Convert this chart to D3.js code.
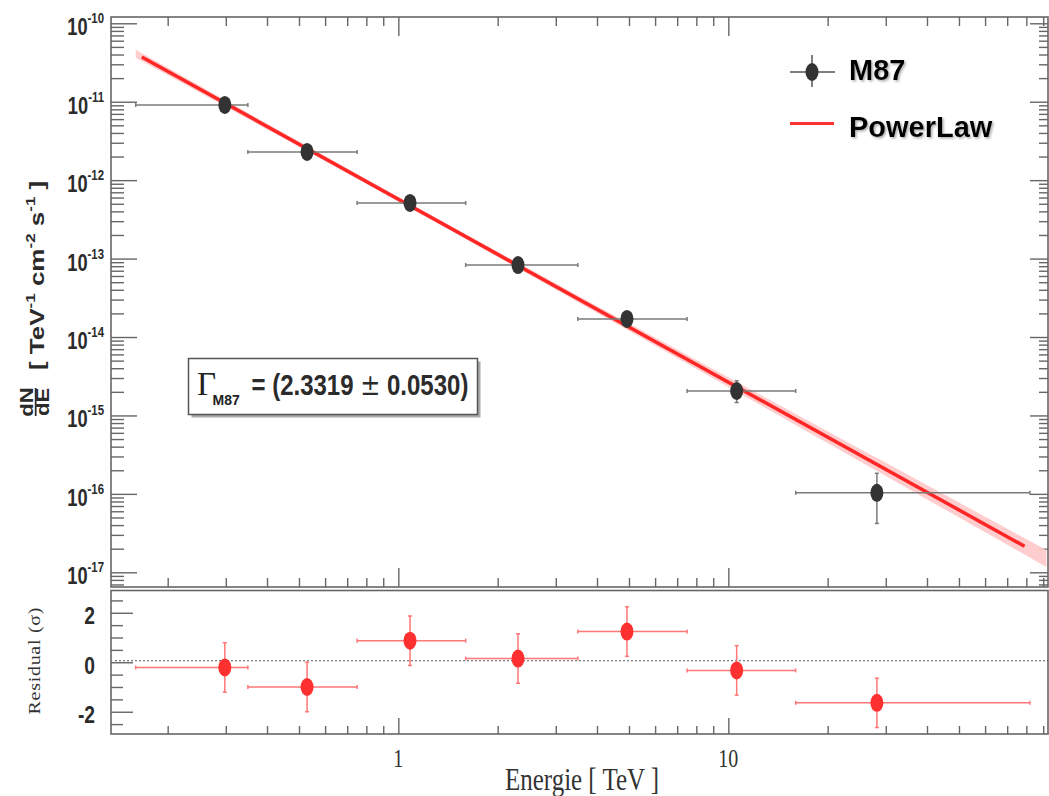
<!DOCTYPE html>
<html>
<head>
<meta charset="utf-8">
<title>M87 spectrum</title>
<script src="https://d3js.org/d3.v7.min.js"></script>
<style>
  body { margin: 0; background: #fff; }
</style>
</head>
<body>
<div id="chart"></div>
<script>
// values
var binLow   = [0.16, 0.35, 0.75, 1.6, 3.5, 7.5, 16];
var binHigh  = [0.35, 0.75, 1.6, 3.5, 7.5, 16, 82];
var energy   = [0.298, 0.529, 1.085, 2.305, 4.93, 10.6, 28.2];
var flux     = [9.1e-12, 2.29e-12, 5.12e-13, 8.28e-14, 1.70e-14, 2.05e-15, 1.03e-16];
var fluxLow  = [8.4e-12, 2.15e-12, 4.8e-13, 7.6e-14, 1.45e-14, 1.46e-15, 4.2e-17];
var fluxHigh = [9.8e-12, 2.43e-12, 5.45e-13, 9.0e-14, 1.95e-14, 2.77e-15, 1.83e-16];
var residual    = [-0.21, -1.0, 0.87, 0.15, 1.24, -0.33, -1.64];
var residualErr = [1, 1, 1, 1, 1, 1, 1];

// power law fit
var gamma = 2.3319, gammaErr = 0.0530;
var norm1TeV = 5.71e-13;
var normErrDex = 0.03;
var fitRange = [0.167, 79];
var bandRange = [0.16, 92];

var yExponents = [-10, -11, -12, -13, -14, -15, -16, -17];
var residualTicks = [-2, 0, 2];
var xLabels = [1, 10];

var W = 1049, H = 796;
var left = 111, right = 1048;
var top1 = 17, bot1 = 587, top2 = 590.5, bot2 = 734;
var axisColor = "#666";

var svg = d3.select("#chart").append("svg")
  .attr("width", W).attr("height", H)
  .style("display", "block");

var defs = svg.append("defs");
var f = defs.append("filter").attr("id", "shadow")
  .attr("x", "-10%").attr("y", "-20%").attr("width", "130%").attr("height", "160%");
f.append("feDropShadow").attr("dx", 1.5).attr("dy", 1.5)
  .attr("stdDeviation", 1).attr("flood-color", "#777").attr("flood-opacity", 0.6);

var x = d3.scaleLog().domain([0.13467, 93.06]).range([left, right]);
var y = d3.scaleLog().domain([Math.pow(10, -17.1874), Math.pow(10, -9.9197)]).range([bot1, top1]);
var yr = d3.scaleLinear().domain([-2.9, 2.9]).range([bot2, top2]);

// tick values
var xMinor = [], xMajor = [];
[-1, 0, 1].forEach(function(e) {
  for (var k = 1; k <= 9; k++) {
    var v = k * Math.pow(10, e);
    if (v < x.domain()[0] || v > x.domain()[1]) continue;
    (k === 1 ? xMajor : xMinor).push(v);
  }
});
var yMinor = [], yMajor = [];
for (var e = -18; e <= -10; e++) {
  for (var k = 1; k <= 9; k++) {
    var v = k * Math.pow(10, e);
    if (v < y.domain()[0] || v > y.domain()[1]) continue;
    (k === 1 ? yMajor : yMinor).push(v);
  }
}
var rMinor = d3.range(-2.5, 2.51, 0.5).filter(function(d) { return Math.abs(d % 2) > 0.01; });

function ticks(axis, tx, ty) {
  var g = svg.append("g").attr("transform", "translate(" + tx + "," + ty + ")").call(axis);
  g.select(".domain").remove();
  g.selectAll("line").attr("stroke", axisColor).attr("stroke-width", 1.4);
  g.selectAll("text").remove();
  return g;
}

// top panel ticks
ticks(d3.axisRight(y).tickValues(yMajor).tickSize(26).tickFormat(""), left, 0);
ticks(d3.axisRight(y).tickValues(yMinor).tickSize(13).tickFormat(""), left, 0);
ticks(d3.axisLeft(y).tickValues(yMajor).tickSize(18).tickFormat(""), right, 0);
ticks(d3.axisLeft(y).tickValues(yMinor).tickSize(9).tickFormat(""), right, 0);
ticks(d3.axisBottom(x).tickValues(xMajor).tickSize(19).tickFormat(""), 0, top1);
ticks(d3.axisBottom(x).tickValues(xMinor).tickSize(9).tickFormat(""), 0, top1);
ticks(d3.axisTop(x).tickValues(xMajor).tickSize(19).tickFormat(""), 0, bot1);
ticks(d3.axisTop(x).tickValues(xMinor).tickSize(9).tickFormat(""), 0, bot1);

// residual ticks
ticks(d3.axisRight(yr).tickValues(residualTicks).tickSize(22).tickFormat(""), left, 0);
ticks(d3.axisRight(yr).tickValues(rMinor).tickSize(12).tickFormat(""), left, 0);
ticks(d3.axisTop(x).tickValues(xMajor).tickSize(16).tickFormat(""), 0, bot2);
ticks(d3.axisTop(x).tickValues(xMinor).tickSize(8).tickFormat(""), 0, bot2);

// frames
svg.append("rect").attr("x", left).attr("y", top1).attr("width", right - left).attr("height", bot1 - top1)
  .attr("fill", "none").attr("stroke", axisColor).attr("stroke-width", 1.6);
svg.append("rect").attr("x", left).attr("y", top2).attr("width", right - left).attr("height", bot2 - top2)
  .attr("fill", "none").attr("stroke", axisColor).attr("stroke-width", 1.6);

// text helper (the original figure is squeezed horizontally)
function label(g, tx, ty, s, o) {
  var t = g.append("text")
    .attr("transform", "translate(" + tx + "," + ty + ") scale(" + (o.sx || 1) + ",1)")
    .attr("text-anchor", o.anchor || "start")
    .style("font-family", o.family || "'Liberation Sans', Arial, sans-serif")
    .style("font-weight", o.weight || "bold")
    .style("font-size", o.size + "px")
    .attr("fill", o.color || "#2b2b2b");
  if (s !== null) t.text(s);
  return t;
}

// y tick labels top panel
yExponents.forEach(function(ex) {
  var t = label(svg, 104, y(Math.pow(10, ex)) + 12, null, {size: 24, sx: 0.76, anchor: "end"});
  t.append("tspan").text("10");
  t.append("tspan").attr("dy", -12).style("font-size", "15px").text(String(ex));
});

// residual tick labels
residualTicks.forEach(function(v) {
  label(svg, 95, yr(v) + 11.5, String(v), {size: 24, sx: 0.8, anchor: "end"});
});

// x labels
xLabels.forEach(function(v) {
  label(svg, x(v), 767, String(v), {size: 25, sx: 0.8, anchor: "middle",
    family: "'Liberation Serif', 'Times New Roman', serif", weight: "normal", color: "#333"});
});
label(svg, 505, 790, "Energie [ TeV ]", {size: 32, sx: 0.78,
  family: "'Liberation Serif', 'Times New Roman', serif", weight: "normal", color: "#333"});

// residual y title
svg.append("text")
  .attr("transform", "translate(40,661) rotate(-90) scale(1,0.85)")
  .attr("text-anchor", "middle")
  .style("font-family", "'Liberation Serif', 'Times New Roman', serif")
  .style("font-size", "20px")
  .attr("fill", "#333")
  .attr("textLength", 107).attr("lengthAdjust", "spacing")
  .text("Residual (σ)");

// top y title
var yt = svg.append("g").attr("transform", "translate(0,417) rotate(-90) scale(1,0.8)")
  .style("font-family", "'Liberation Sans', Arial, sans-serif")
  .style("font-weight", "bold").attr("fill", "#2b2b2b");
yt.append("text").attr("x", 15).attr("y", 41.3).attr("text-anchor", "middle")
  .style("font-size", "22px").text("dN");
yt.append("line").attr("x1", 1).attr("x2", 29).attr("y1", 44.6).attr("y2", 44.6)
  .attr("stroke", "#2b2b2b").attr("stroke-width", 2.2);
yt.append("text").attr("x", 15).attr("y", 60.8).attr("text-anchor", "middle")
  .style("font-size", "22px").text("dE");
var mt = yt.append("text").attr("x", 47).attr("y", 55).style("font-size", "26px");
mt.append("tspan").text("[ TeV");
mt.append("tspan").attr("dy", -11).style("font-size", "17px").text("-1");
mt.append("tspan").attr("dy", 11).text(" cm");
mt.append("tspan").attr("dy", -11).style("font-size", "17px").text("-2");
mt.append("tspan").attr("dy", 11).text(" s");
mt.append("tspan").attr("dy", -11).style("font-size", "17px").text("-1");
mt.append("tspan").attr("dy", 11).text(" ]");

// power law band and line
var lnSteps = d3.range(0, 61).map(function(i) {
  return Math.exp(Math.log(bandRange[0]) + i / 60 * (Math.log(bandRange[1]) - Math.log(bandRange[0])));
});
function pl(E) { return norm1TeV * Math.pow(E, -gamma); }
function dex(E) {
  var a = gammaErr * Math.log10(E);
  return Math.sqrt(a * a + normErrDex * normErrDex);
}
var area = d3.area()
  .x(function(E) { return x(E); })
  .y0(function(E) { return y(pl(E) * Math.pow(10, -dex(E))); })
  .y1(function(E) { return y(pl(E) * Math.pow(10, dex(E))); });
svg.append("path").datum(lnSteps).attr("d", area)
  .attr("fill", "#ffc8c8").attr("opacity", 0.9);
svg.append("line")
  .attr("x1", x(fitRange[0])).attr("y1", y(pl(fitRange[0])))
  .attr("x2", x(fitRange[1])).attr("y2", y(pl(fitRange[1])))
  .attr("stroke", "#ff2626").attr("stroke-width", 3.5);

// flux points
var pts = energy.map(function(E, i) { return i; });
var eb = svg.append("g").attr("stroke", "#7a7a7a").attr("stroke-width", 1.5);
pts.forEach(function(i) {
  var cy = y(flux[i]);
  eb.append("line").attr("x1", x(binLow[i])).attr("x2", x(binHigh[i])).attr("y1", cy).attr("y2", cy);
  eb.append("line").attr("x1", x(binLow[i])).attr("x2", x(binLow[i])).attr("y1", cy - 2).attr("y2", cy + 2);
  eb.append("line").attr("x1", x(binHigh[i])).attr("x2", x(binHigh[i])).attr("y1", cy - 2).attr("y2", cy + 2);
  var cx = x(energy[i]);
  eb.append("line").attr("x1", cx).attr("x2", cx).attr("y1", y(fluxLow[i])).attr("y2", y(fluxHigh[i]));
  eb.append("line").attr("x1", cx - 2).attr("x2", cx + 2).attr("y1", y(fluxLow[i])).attr("y2", y(fluxLow[i]));
  eb.append("line").attr("x1", cx - 2).attr("x2", cx + 2).attr("y1", y(fluxHigh[i])).attr("y2", y(fluxHigh[i]));
});
svg.append("g").selectAll("ellipse").data(pts).enter().append("ellipse")
  .attr("cx", function(i) { return x(energy[i]); })
  .attr("cy", function(i) { return y(flux[i]); })
  .attr("rx", 6.5).attr("ry", 9)
  .attr("fill", "#333");

// residuals
svg.append("line").attr("x1", left + 4).attr("x2", right).attr("y1", yr(0) - 1.5).attr("y2", yr(0) - 1.5)
  .attr("stroke", "#555").attr("stroke-width", 1).attr("stroke-dasharray", "2,2");
var rb = svg.append("g").attr("stroke", "#ff7777").attr("stroke-width", 1.5);
pts.forEach(function(i) {
  var cy = yr(residual[i]), cx = x(energy[i]);
  var lo = yr(residual[i] - residualErr[i]), hi = yr(residual[i] + residualErr[i]);
  rb.append("line").attr("x1", x(binLow[i])).attr("x2", x(binHigh[i])).attr("y1", cy).attr("y2", cy);
  rb.append("line").attr("x1", x(binLow[i])).attr("x2", x(binLow[i])).attr("y1", cy - 2).attr("y2", cy + 2);
  rb.append("line").attr("x1", x(binHigh[i])).attr("x2", x(binHigh[i])).attr("y1", cy - 2).attr("y2", cy + 2);
  rb.append("line").attr("x1", cx).attr("x2", cx).attr("y1", lo).attr("y2", hi);
  rb.append("line").attr("x1", cx - 2).attr("x2", cx + 2).attr("y1", lo).attr("y2", lo);
  rb.append("line").attr("x1", cx - 2).attr("x2", cx + 2).attr("y1", hi).attr("y2", hi);
});
svg.append("g").selectAll("ellipse").data(pts).enter().append("ellipse")
  .attr("cx", function(i) { return x(energy[i]); })
  .attr("cy", function(i) { return yr(residual[i]); })
  .attr("rx", 6.5).attr("ry", 9)
  .attr("fill", "#ff3030");

// legend
var lg = svg.append("g");
lg.append("line").attr("x1", 790).attr("x2", 835).attr("y1", 72).attr("y2", 72).attr("stroke", "#555").attr("stroke-width", 1.5);
lg.append("line").attr("x1", 812).attr("x2", 812).attr("y1", 55).attr("y2", 87).attr("stroke", "#555").attr("stroke-width", 1.5);
lg.append("ellipse").attr("cx", 812).attr("cy", 72).attr("rx", 6.5).attr("ry", 9).attr("fill", "#333");
lg.append("line").attr("x1", 790).attr("x2", 834).attr("y1", 123.5).attr("y2", 123.5).attr("stroke", "#ff3030").attr("stroke-width", 3);
label(lg, 849, 79.5, "M87", {size: 29, color: "#000"}).attr("filter", "url(#shadow)");
label(lg, 849, 137, "PowerLaw", {size: 29, color: "#000"}).attr("filter", "url(#shadow)");

// photon index box
var bx = svg.append("g");
bx.append("rect").attr("x", 191.5).attr("y", 361.5).attr("width", 289).attr("height", 56).attr("fill", "#aaa");
bx.append("rect").attr("x", 188.5).attr("y", 358.5).attr("width", 289).attr("height", 56)
  .attr("fill", "#fff").attr("stroke", "#555").attr("stroke-width", 1.5);
label(bx, 197, 395, "Γ", {size: 33, family: "'Liberation Serif', 'Times New Roman', serif", weight: "normal", color: "#222"});
label(bx, 212.5, 405, "M87", {size: 14, color: "#222"});
var gt = label(bx, 251.5, 395, null, {size: 30, sx: 0.8, color: "#2b2b2b"});
gt.append("tspan").text("= (" + gamma.toFixed(4) + " ");
gt.append("tspan").style("font-weight", "normal").style("font-family", "'DejaVu Serif', serif").text("±");
gt.append("tspan").text(" " + gammaErr.toFixed(4) + ")");
</script>
</body>
</html>
